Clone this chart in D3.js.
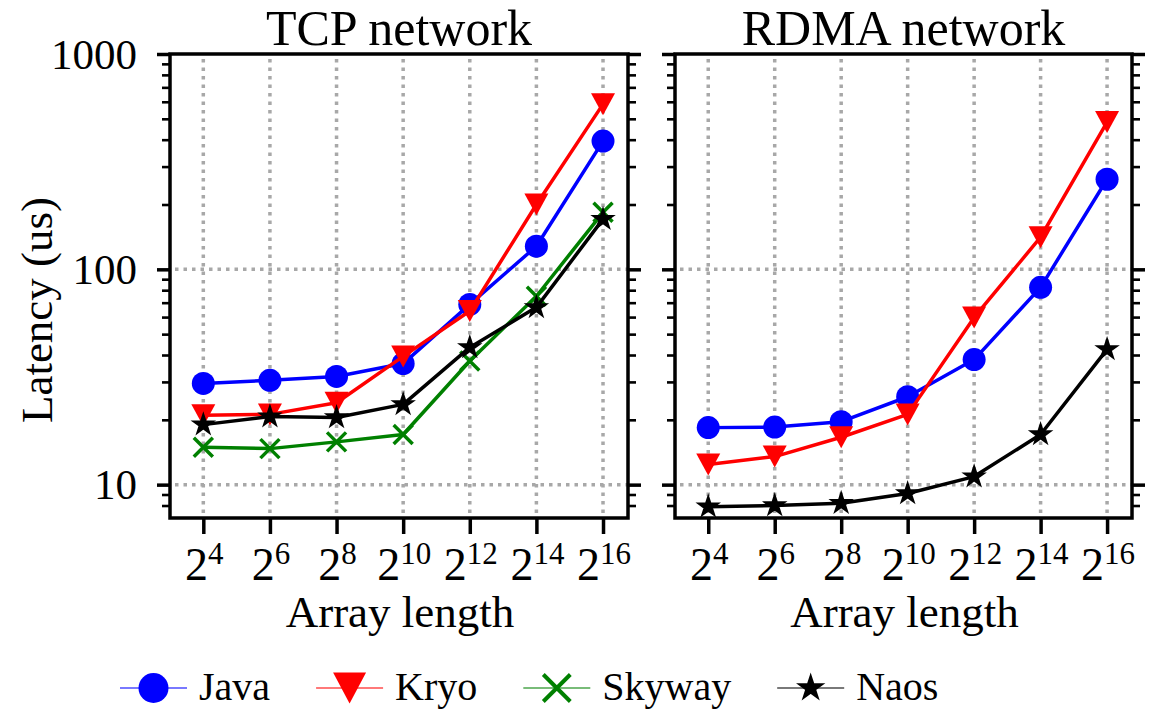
<!DOCTYPE html>
<html><head><meta charset="utf-8">
<script src="https://cdn.jsdelivr.net/npm/d3@7"></script>
<style>
body{margin:0;background:#fff}
svg{display:block}
svg text{font-family:"Liberation Serif","Tinos","Times New Roman","DejaVu Serif",serif;fill:#000}
</style>
</head><body>
<svg id="c" width="1155" height="715"></svg>
<script>
// ---- data ----
const exponents = [4, 6, 8, 10, 12, 14, 16];
const seriesNames = ["Java", "Kryo", "Skyway", "Naos"];
const seriesColors = ["#0000ff", "#ff0000", "#008000", "#000000"];
const seriesMarkers = ["circle", "triangle", "cross", "star"];

const tcpJava   = [29.5, 30.5, 31.8, 36.5, 68.7, 128, 394];
const tcpKryo   = [21.0, 21.2, 24.0, 39.4, 64.0, 200, 585];
const tcpSkyway = [14.9, 14.7, 15.8, 17.1, 37.5, 75, 184];
const tcpNaos   = [19.0, 20.7, 20.5, 23.6, 43.4, 66.6, 171];

const rdmaJava  = [18.4, 18.5, 19.6, 25.6, 38.1, 82.5, 262];
const rdmaKryo  = [12.4, 13.5, 16.6, 21.2, 59.8, 141, 483];
const rdmaNaos  = [7.9, 8.0, 8.2, 9.1, 10.9, 17.1, 42.5];

const yMajorTicks = [10, 100, 1000];
const yMinorTicks = [8, 9, 20, 30, 40, 50, 60, 70, 80, 90, 200, 300, 400, 500, 600, 700, 800, 900];
const panelTitles = ["TCP network", "RDMA network"];
const xLabel = "Array length";
const yLabel = "Latency (us)";

const panels = [
  {title: panelTitles[0], series: [tcpJava, tcpKryo, tcpSkyway, tcpNaos], left: 170, right: 628, labels: true},
  {title: panelTitles[1], series: [rdmaJava, rdmaKryo, null, rdmaNaos], left: 675, right: 1132, labels: false}
];

// ---- drawing ----
const svg = d3.select("#c");
const plotTop = 54, plotBottom = 518;
const serif = '"Liberation Serif","Tinos","Times New Roman","DejaVu Serif",serif';

function drawMarker(g, type, s, color) {
  if (type === "circle") {
    g.append("circle").attr("r", s.r).attr("fill", color);
  } else if (type === "triangle") {
    g.append("path").attr("d", `M${-s.w/2},${-s.h/2}L${s.w/2},${-s.h/2}L0,${s.h/2}Z`).attr("fill", color);
  } else if (type === "cross") {
    g.append("path").attr("d", `M${-s.x},${-s.x}L${s.x},${s.x}M${-s.x},${s.x}L${s.x},${-s.x}`)
      .attr("stroke", color).attr("stroke-width", s.sw).attr("fill", "none");
  } else if (type === "star") {
    g.append("path").attr("d", d3.symbol(d3.symbolStar, s.star * s.star / 0.8908130915292852)())
      .attr("fill", color).attr("stroke", color).attr("stroke-width", 1.8).attr("stroke-linejoin", "miter");
  }
}
const plotMarkerSize = {r: 11.5, w: 24, h: 22, x: 9.5, sw: 3.5, star: 10.5};
const legendMarkerSize = {r: 15, w: 33, h: 31, x: 13.5, sw: 4, star: 12.5};

panels.forEach(p => {
  const x = d3.scaleLog().base(2).domain([2 ** 3, 2 ** 16.75]).range([p.left, p.right]);
  const y = d3.scaleLog().domain([7, 1000]).range([plotBottom, plotTop]);
  const g = svg.append("g");

  // grid
  const grid = g.append("g").attr("stroke", "#a8a8a8").attr("stroke-width", 3.5).attr("stroke-dasharray", "3.5,5");
  exponents.forEach(e => {
    grid.append("line").attr("x1", x(2 ** e)).attr("x2", x(2 ** e)).attr("y1", plotTop + 5).attr("y2", plotBottom);
  });
  [10, 100].forEach(v => {
    grid.append("line").attr("x1", p.left + 5).attr("x2", p.right).attr("y1", y(v)).attr("y2", y(v));
  });

  // y axes ticks (both sides)
  const sides = [
    {gen: d3.axisLeft, pos: p.left},
    {gen: d3.axisRight, pos: p.right}
  ];
  sides.forEach((s, i) => {
    const major = g.append("g").attr("transform", `translate(${s.pos},0)`)
      .call(s.gen(y).tickValues(yMajorTicks).tickSize(13).tickFormat(""));
    major.selectAll("line").attr("stroke-width", 3.5);
    const minor = g.append("g").attr("transform", `translate(${s.pos},0)`)
      .call(s.gen(y).tickValues(yMinorTicks).tickSize(8).tickFormat(""));
    minor.selectAll("line").attr("stroke-width", 2.6);
    g.selectAll(".domain").remove();
    if (i === 0 && p.labels) {
      yMajorTicks.forEach(v => {
        g.append("text").attr("x", 137).attr("y", y(v)).attr("dy", "0.34em")
          .attr("font-family", serif)
          .attr("text-anchor", "end").attr("font-size", 43).text(v);
      });
    }
  });

  // x axis ticks
  const xa = g.append("g").attr("transform", `translate(0,${plotBottom})`)
    .call(d3.axisBottom(x).tickValues(exponents.map(e => 2 ** e)).tickSize(16).tickFormat(""));
  xa.select(".domain").remove();
  xa.selectAll("line").attr("stroke-width", 3.5);
  exponents.forEach(e => {
    const t = g.append("text").attr("x", x(2 ** e) + 1).attr("y", 580).attr("text-anchor", "middle")
      .attr("font-family", serif).attr("font-size", 46);
    t.append("tspan").text("2");
    t.append("tspan").attr("font-size", 31).attr("dy", -16).text(e);
  });

  // frame
  g.append("rect").attr("x", p.left).attr("y", plotTop).attr("width", p.right - p.left).attr("height", plotBottom - plotTop)
    .attr("fill", "none").attr("stroke", "#000").attr("stroke-width", 3.5);

  // titles
  g.append("text").attr("x", (p.left + p.right) / 2).attr("y", 45).attr("text-anchor", "middle")
    .attr("font-family", serif).attr("font-size", 50).text(p.title);
  g.append("text").attr("x", (p.left + p.right) / 2 + 1).attr("y", 627).attr("text-anchor", "middle")
    .attr("font-family", serif).attr("font-size", 45).text(xLabel);

  // series
  const line = d3.line().x((d, i) => x(2 ** exponents[i])).y(d => y(d));
  p.series.forEach((vals, si) => {
    if (!vals) return;
    const sg = g.append("g");
    sg.append("path").attr("d", line(vals)).attr("fill", "none").attr("stroke", seriesColors[si])
      .attr("stroke-width", 3.5).attr("stroke-linejoin", "round");
    vals.forEach((v, i) => {
      const mg = sg.append("g").attr("transform", `translate(${x(2 ** exponents[i])},${y(v)})`);
      drawMarker(mg, seriesMarkers[si], plotMarkerSize, seriesColors[si]);
    });
  });
});

// y label
svg.append("text").attr("transform", "translate(52,310) rotate(-90)").attr("text-anchor", "middle")
  .attr("font-family", serif).attr("font-size", 45).text(yLabel);

// legend
let lx = 120;
const ly = 688;
seriesNames.forEach((name, i) => {
  const lg = svg.append("g");
  lg.append("line").attr("x1", lx).attr("x2", lx + 67).attr("y1", ly).attr("y2", ly)
    .attr("stroke", seriesColors[i]).attr("stroke-width", 1.6).attr("stroke-opacity", 0.7);
  const mg = lg.append("g").attr("transform", `translate(${lx + 33.5},${ly})`);
  drawMarker(mg, seriesMarkers[i], legendMarkerSize, seriesColors[i]);
  const t = lg.append("text").attr("x", lx + 79).attr("y", ly + 12).attr("font-family", serif)
    .attr("font-size", 40).text(name);
  lx = lx + 79 + t.node().getComputedTextLength() + 46;
});
</script>
</body></html>
